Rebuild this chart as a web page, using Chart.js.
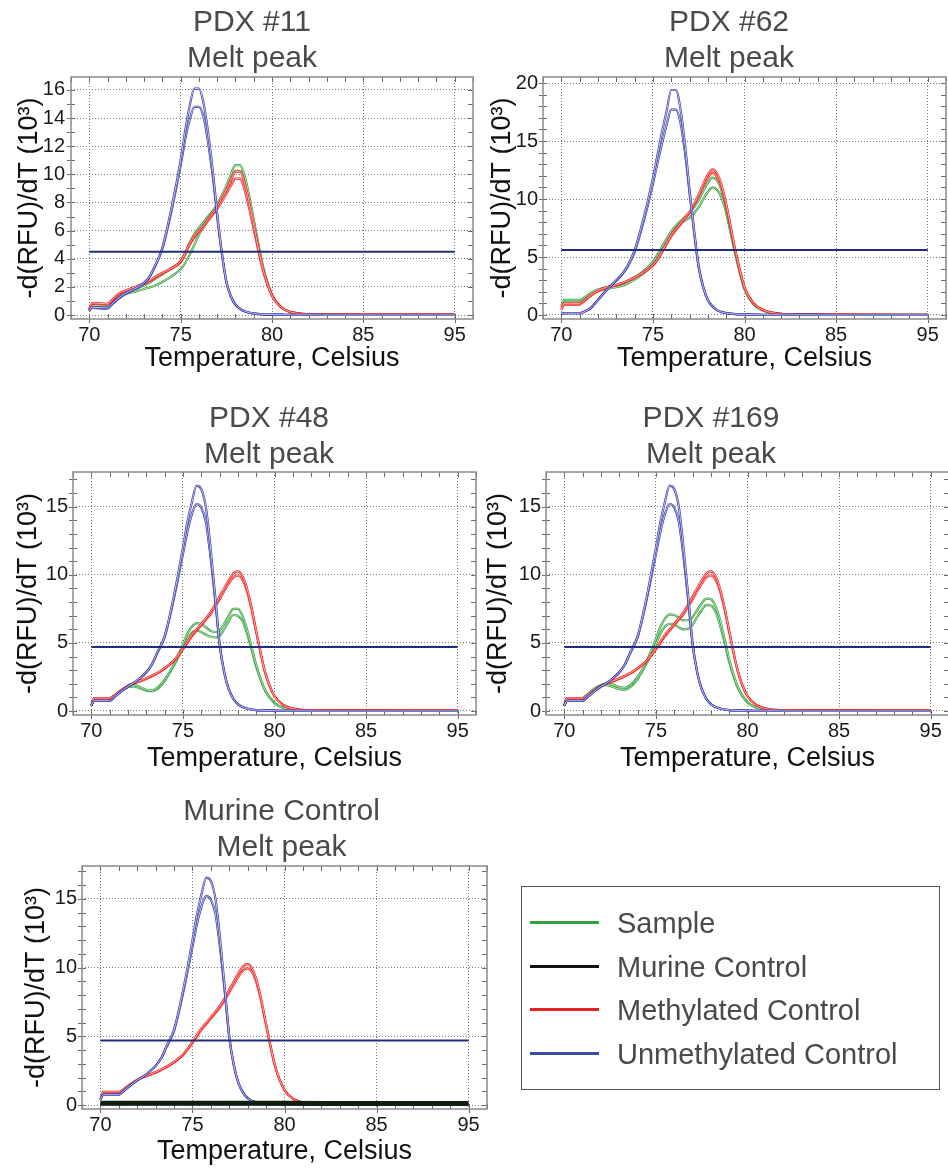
<!DOCTYPE html>
<html>
<head>
<meta charset="utf-8">
<script src="https://cdn.jsdelivr.net/npm/chart.js@4.4.1/dist/chart.umd.min.js"></script>
<style>
html,body{margin:0;padding:0;background:#fff;}
#root{position:relative;width:948px;height:1171px;overflow:hidden;background:#fff;}
#root canvas{position:absolute;}
#legend{position:absolute;left:521px;top:886px;width:419px;height:204px;border:1.5px solid #555;box-sizing:border-box;background:transparent;font-family:'Liberation Sans',Arial,Helvetica,sans-serif;}
#legend .row{position:absolute;left:0;height:40px;display:flex;align-items:center;}
#legend .sw{position:absolute;left:8px;top:18px;width:69px;height:3px;}
#legend .tx{position:absolute;left:95px;top:0;height:40px;line-height:40px;font-size:29px;color:#4a4a4a;white-space:nowrap;}
</style>
</head>
<body>
<div id="root"></div>
<script>
// ---------- data ----------
const panelTitles = ['PDX #11', 'PDX #62', 'PDX #48', 'PDX #169', 'Murine Control'];
const subTitle = 'Melt peak';
const xTickValues = [70, 75, 80, 85, 90];
const xTickLabels = ['70', '75', '80', '85', '95'];
const yTicks16 = [0, 2, 4, 6, 8, 10, 12, 14, 16];
const yTicks20 = [0, 5, 10, 15, 20];
const yTicks15 = [0, 5, 10, 15];
const thresholds = [4.5, 5.6, 4.7, 4.7, 4.7];

const temps = [70, 70.15, 71, 71.2, 71.6, 72, 72.3, 72.6, 73, 73.3, 73.6, 74, 74.5, 75, 75.25, 75.5, 75.75, 76, 76.25, 76.5, 76.8, 77, 77.25, 77.5, 77.75, 78, 78.25, 78.5, 78.75, 79, 79.5, 80, 80.5, 81, 81.5, 82, 83, 85, 90];

// PDX #11
const unmeth11a = [0.3, 0.55, 0.5, 0.75, 1.2, 1.55, 1.75, 1.95, 2.3, 2.75, 3.5, 4.8, 7.6, 11.0, 13.1, 14.9, 16.1, 16.1, 15.1, 13.0, 9.8, 7.2, 4.5, 2.4, 1.35, 0.75, 0.45, 0.27, 0.17, 0.11, 0.05, 0.03, 0.02, 0.01, 0.01, 0.01, 0, 0, 0];
const unmeth11b = [0.3, 0.5, 0.45, 0.7, 1.15, 1.5, 1.7, 1.9, 2.25, 2.7, 3.45, 4.7, 7.4, 10.6, 12.5, 13.9, 14.8, 14.8, 14.1, 12.3, 9.4, 7.0, 4.4, 2.35, 1.3, 0.72, 0.44, 0.26, 0.16, 0.1, 0.05, 0.03, 0.02, 0.01, 0.01, 0.01, 0, 0, 0];
const meth11a = [0.4, 0.85, 0.8, 1.0, 1.5, 1.75, 1.9, 2.05, 2.25, 2.45, 2.7, 3.0, 3.35, 3.8, 4.4, 5.1, 5.6, 6.0, 6.35, 6.8, 7.3, 7.7, 8.3, 8.9, 9.6, 10.2, 10.2, 9.4, 8.0, 6.4, 3.3, 1.4, 0.55, 0.22, 0.1, 0.06, 0.03, 0.02, 0.02];
const meth11b = [0.35, 0.8, 0.75, 0.95, 1.45, 1.7, 1.85, 2.0, 2.2, 2.4, 2.65, 2.95, 3.3, 3.75, 4.3, 5.0, 5.5, 5.9, 6.25, 6.7, 7.2, 7.55, 8.05, 8.6, 9.2, 9.7, 9.7, 8.9, 7.6, 6.1, 3.2, 1.35, 0.55, 0.22, 0.1, 0.06, 0.03, 0.02, 0.02];
const samp11a = [0.35, 0.7, 0.65, 0.85, 1.3, 1.5, 1.6, 1.7, 1.85, 1.95, 2.1, 2.35, 2.75, 3.25, 3.7, 4.3, 5.0, 5.7, 6.3, 6.85, 7.45, 7.9, 8.5, 9.2, 10.0, 10.65, 10.65, 9.9, 8.5, 6.8, 3.5, 1.45, 0.55, 0.2, 0.08, 0.04, 0.02, 0.01, 0.01];
const samp11b = [0.3, 0.65, 0.6, 0.8, 1.3, 1.6, 1.75, 1.9, 2.1, 2.3, 2.55, 2.9, 3.3, 3.85, 4.45, 5.15, 5.75, 6.2, 6.6, 7.0, 7.45, 7.8, 8.3, 8.9, 9.6, 10.25, 10.25, 9.6, 8.2, 6.6, 3.4, 1.4, 0.55, 0.2, 0.08, 0.04, 0.02, 0.01, 0.01];

// PDX #62
const unmeth62a = [0.1, 0.15, 0.15, 0.25, 0.6, 1.3, 1.85, 2.35, 3.0, 3.5, 4.2, 5.6, 8.4, 11.8, 13.8, 15.8, 17.6, 19.4, 19.4, 17.8, 14.0, 10.8, 7.3, 4.2, 2.4, 1.3, 0.75, 0.42, 0.25, 0.16, 0.08, 0.05, 0.03, 0.02, 0.02, 0.01, 0.01, 0, 0];
const unmeth62b = [0.1, 0.15, 0.15, 0.25, 0.6, 1.3, 1.85, 2.35, 2.95, 3.45, 4.1, 5.4, 8.1, 11.3, 13.1, 14.8, 16.4, 17.7, 17.7, 16.6, 13.4, 10.5, 7.1, 4.1, 2.35, 1.3, 0.75, 0.42, 0.25, 0.16, 0.08, 0.05, 0.03, 0.02, 0.02, 0.01, 0.01, 0, 0];
const meth62a = [0.5, 1.0, 1.0, 1.2, 1.7, 2.1, 2.3, 2.45, 2.6, 2.75, 2.95, 3.25, 3.7, 4.3, 4.8, 5.5, 6.2, 6.9, 7.4, 7.9, 8.5, 8.9, 9.6, 10.4, 11.3, 12.1, 12.55, 12.2, 11.2, 9.6, 5.6, 2.4, 1.0, 0.45, 0.2, 0.1, 0.05, 0.03, 0.02];
const meth62b = [0.45, 0.9, 0.9, 1.1, 1.65, 2.05, 2.25, 2.4, 2.55, 2.7, 2.9, 3.2, 3.65, 4.25, 4.75, 5.4, 6.1, 6.8, 7.3, 7.8, 8.4, 8.8, 9.5, 10.2, 11.1, 11.8, 12.25, 11.9, 11.0, 9.4, 5.5, 2.35, 1.0, 0.45, 0.2, 0.1, 0.05, 0.03, 0.02];
const samp62a = [0.8, 1.3, 1.3, 1.45, 1.9, 2.2, 2.35, 2.45, 2.55, 2.7, 2.9, 3.25, 3.8, 4.6, 5.2, 5.9, 6.6, 7.2, 7.7, 8.1, 8.5, 8.8, 9.3, 9.9, 10.7, 11.4, 11.85, 11.6, 10.7, 9.2, 5.4, 2.3, 0.95, 0.4, 0.17, 0.08, 0.04, 0.02, 0.02];
const samp62b = [0.7, 1.2, 1.2, 1.35, 1.8, 2.1, 2.2, 2.3, 2.4, 2.5, 2.7, 3.05, 3.6, 4.4, 5.0, 5.7, 6.4, 7.0, 7.5, 7.9, 8.2, 8.4, 8.8, 9.3, 10.0, 10.6, 11.0, 10.8, 10.1, 8.8, 5.2, 2.2, 0.9, 0.38, 0.16, 0.08, 0.04, 0.02, 0.02];

// controls shared by PDX #48, PDX #169 and Murine Control
const unmethCtlA = [0.4, 0.75, 0.75, 0.95, 1.4, 1.8, 2.05, 2.35, 2.85, 3.4, 4.3, 5.5, 8.4, 12.0, 13.9, 15.4, 16.55, 16.3, 15.0, 12.1, 7.9, 5.0, 2.9, 1.6, 0.9, 0.5, 0.3, 0.18, 0.11, 0.07, 0.04, 0.02, 0.01, 0.01, 0.01, 0, 0, 0, 0];
const unmethCtlB = [0.4, 0.75, 0.75, 0.95, 1.4, 1.8, 2.05, 2.35, 2.85, 3.4, 4.25, 5.4, 8.2, 11.5, 13.2, 14.5, 15.2, 14.95, 13.9, 11.4, 7.6, 4.9, 2.85, 1.6, 0.9, 0.5, 0.3, 0.18, 0.11, 0.07, 0.04, 0.02, 0.01, 0.01, 0.01, 0, 0, 0, 0];
const methCtlA = [0.4, 0.95, 0.95, 1.1, 1.5, 1.85, 2.05, 2.2, 2.4, 2.6, 2.8, 3.15, 3.7, 4.6, 5.1, 5.6, 6.0, 6.4, 6.8, 7.25, 7.9, 8.4, 9.0, 9.6, 10.1, 10.25, 9.9, 9.0, 7.6, 5.9, 2.8, 1.1, 0.42, 0.17, 0.08, 0.05, 0.04, 0.04, 0.05];
const methCtlB = [0.4, 0.9, 0.9, 1.05, 1.45, 1.8, 2.0, 2.15, 2.35, 2.55, 2.75, 3.1, 3.65, 4.5, 5.0, 5.5, 5.9, 6.3, 6.7, 7.1, 7.75, 8.2, 8.8, 9.35, 9.8, 9.95, 9.65, 8.8, 7.45, 5.8, 2.75, 1.08, 0.42, 0.17, 0.08, 0.05, 0.04, 0.04, 0.05];

// PDX #48 samples
const samp48a = [0.4, 0.85, 0.85, 1.05, 1.5, 1.8, 1.9, 1.8, 1.55, 1.5, 1.7, 2.3, 3.4, 4.9, 5.7, 6.2, 6.45, 6.4, 6.15, 5.9, 5.8, 5.9, 6.4, 7.0, 7.5, 7.5, 7.0, 6.0, 4.7, 3.4, 1.5, 0.6, 0.22, 0.09, 0.05, 0.03, 0.02, 0.02, 0.02];
const samp48b = [0.4, 0.8, 0.8, 1.0, 1.45, 1.75, 1.8, 1.7, 1.5, 1.45, 1.6, 2.2, 3.3, 4.6, 5.3, 5.75, 5.9, 5.8, 5.6, 5.45, 5.4, 5.5, 6.0, 6.6, 7.05, 7.0, 6.6, 5.7, 4.5, 3.25, 1.45, 0.58, 0.22, 0.09, 0.05, 0.03, 0.02, 0.02, 0.02];

// PDX #169 samples
const samp169a = [0.4, 0.95, 0.95, 1.15, 1.6, 1.9, 2.0, 1.95, 1.75, 1.7, 1.9, 2.5, 3.7, 5.3, 6.2, 6.8, 7.1, 7.05, 6.85, 6.65, 6.7, 6.9, 7.4, 7.9, 8.25, 8.2, 7.7, 6.7, 5.3, 3.8, 1.7, 0.65, 0.25, 0.1, 0.05, 0.03, 0.02, 0.02, 0.02];
const samp169b = [0.4, 0.9, 0.9, 1.1, 1.55, 1.85, 1.9, 1.8, 1.6, 1.55, 1.75, 2.35, 3.5, 4.9, 5.7, 6.2, 6.4, 6.35, 6.15, 6.0, 6.05, 6.3, 6.9, 7.4, 7.8, 7.75, 7.3, 6.3, 5.0, 3.6, 1.6, 0.62, 0.24, 0.1, 0.05, 0.03, 0.02, 0.02, 0.02];

// Murine control (no amplification)
const murineTemps = [70, 75, 80, 85, 90];
const murineVals = [0.12, 0.12, 0.12, 0.11, 0.11];

const legendLabels = ['Sample', 'Murine Control', 'Methylated Control', 'Unmethylated Control'];

// ---------- styles / layout ----------
const FONT = "'Liberation Sans', Arial, Helvetica, sans-serif";
Chart.defaults.font.family = FONT;
const BLUE = '#3636aa', BLUE_IN = 'rgba(240,240,255,0.85)';
const RED = '#f21c1c', RED_IN = 'rgba(255,232,232,0.8)';
const GREEN = '#2f9a36', GREEN_IN = 'rgba(232,255,232,0.8)';
const BLACK = '#0e1f10', THR = '#1f2f7a';
const legendColors = ['#35a040', '#111111', '#e52222', '#3b4ea6'];

const panels = [
  {blue: [unmeth11a, unmeth11b], red: [meth11a, meth11b], green: [samp11a, samp11b], murine: false, yTicks: yTicks16},
  {blue: [unmeth62a, unmeth62b], red: [meth62a, meth62b], green: [samp62a, samp62b], murine: false, yTicks: yTicks20},
  {blue: [unmethCtlA, unmethCtlB], red: [methCtlA, methCtlB], green: [samp48a, samp48b], murine: false, yTicks: yTicks15},
  {blue: [unmethCtlA, unmethCtlB], red: [methCtlA, methCtlB], green: [samp169a, samp169b], murine: false, yTicks: yTicks15},
  {blue: [unmethCtlA, unmethCtlB], red: [methCtlA, methCtlB], green: [], murine: true, yTicks: yTicks15}
];

const layouts = [
  {left: 0,   top: 1,   w: 504, h: 379, yW: 71, xH: 61, rW: 31, yMin: -0.284, yMax: 16.92, minorMax: 16, tPadB: 0,  yTP: 13.3, xTP: 5.3, yTickPad: 6},
  {left: 474, top: 1,   w: 510, h: 379, yW: 69, xH: 61, rW: 38, yMin: -0.345, yMax: 20.52, minorMax: 20, tPadB: 0,  yTP: 12.8, xTP: 5.3, yTickPad: 5},
  {left: 0,   top: 397, w: 538, h: 383, yW: 73, xH: 65, rW: 62, yMin: -0.294, yMax: 17.55, minorMax: 17, tPadB: -1, yTP: 12.1, xTP: 4.8, yTickPad: 5},
  {left: 472, top: 397, w: 478, h: 383, yW: 74, xH: 65, rW: 1,  yMin: -0.294, yMax: 17.55, minorMax: 17, tPadB: -1, yTP: 10.8, xTP: 4.8, yTickPad: 5},
  {left: 0,   top: 790, w: 563, h: 381, yW: 82, xH: 62, rW: 76, yMin: -0.29,  yMax: 17.4,  minorMax: 17, tPadB: 0,  yTP: 20.5, xTP: 3.3, yTickPad: 5}
];

const framePlugin = {
  id: 'frame',
  beforeDatasetsDraw(chart, args, o) {
    const {ctx, chartArea: a} = chart;
    const xs = chart.scales.x, ys = chart.scales.y;
    ctx.save();
    ctx.lineWidth = 1;
    ctx.strokeStyle = '#6a6a6a';
    ctx.beginPath();
    for (let v = Math.ceil(xs.min); v <= Math.floor(xs.max); v++) {
      const px = Math.round(xs.getPixelForValue(v)) + 0.5;
      const major = xTickValues.includes(v);
      ctx.moveTo(px, a.bottom + (major ? 4 : 0)); ctx.lineTo(px, a.bottom - 5);
      ctx.moveTo(px, a.top); ctx.lineTo(px, a.top + 5);
    }
    for (let v = 0; v <= o.minorMax; v++) {
      const py = Math.round(ys.getPixelForValue(v)) + 0.5;
      ctx.moveTo(a.left - 4, py); ctx.lineTo(a.left + 4, py);
      ctx.moveTo(a.right, py); ctx.lineTo(a.right - 5, py);
    }
    ctx.stroke();
    ctx.lineWidth = 1.5;
    ctx.strokeStyle = '#8a8a8a';
    ctx.strokeRect(a.left, a.top, a.right - a.left, a.bottom - a.top);
    ctx.restore();
  }
};

const common = {pointRadius: 0, pointHoverRadius: 0, fill: false, cubicInterpolationMode: 'monotone'};

function curveSets(list, color, inner, base) {
  const out = [];
  list.forEach((vals, k) => {
    const pts = temps.map((t, i) => ({x: t, y: vals[i]}));
    out.push(Object.assign({data: pts, borderColor: color, borderWidth: 2.2, order: base + 2 * k + 1}, common));
    out.push(Object.assign({data: pts, borderColor: inner, borderWidth: 0.9, order: base + 2 * k}, common));
  });
  return out;
}

const root = document.getElementById('root');

layouts.forEach((L, p) => {
  const P = panels[p];
  const c = document.createElement('canvas');
  c.width = L.w; c.height = L.h;
  c.style.left = L.left + 'px'; c.style.top = L.top + 'px';
  c.style.width = L.w + 'px'; c.style.height = L.h + 'px';
  root.appendChild(c);

  const ds = [];
  if (P.murine) {
    ds.push(Object.assign({data: murineTemps.map((t, i) => ({x: t, y: murineVals[i]})), borderColor: BLACK, borderWidth: 5, order: 0}, common));
  }
  ds.push(Object.assign({data: [{x: temps[0], y: thresholds[p]}, {x: temps[temps.length - 1], y: thresholds[p]}], borderColor: THR, borderWidth: 2, order: 1}, common));
  ds.push(...curveSets(P.blue, BLUE, BLUE_IN, 10));
  ds.push(...curveSets(P.red, RED, RED_IN, 20));
  ds.push(...curveSets(P.green, GREEN, GREEN_IN, 30));

  new Chart(c, {
    type: 'line',
    data: {datasets: ds},
    plugins: [framePlugin],
    options: {
      responsive: false,
      animation: false,
      events: [],
      layout: {padding: 0, autoPadding: false},
      plugins: {
        legend: {display: false},
        tooltip: {enabled: false},
        title: {
          display: true,
          text: [panelTitles[p], subTitle],
          color: '#4a4a4a',
          font: {size: 30, weight: 'normal', lineHeight: 36 / 30},
          padding: {top: 4, bottom: L.tPadB}
        },
        frame: {minorMax: L.minorMax}
      },
      scales: {
        x: {
          type: 'linear', position: 'bottom', min: 69, max: 91,
          afterBuildTicks: s => { s.ticks = xTickValues.map(v => ({value: v})); },
          afterFit: s => { s.height = L.xH; },
          ticks: {
            autoSkip: false, maxRotation: 0, padding: 4, color: '#1a1a1a',
            font: {size: 20},
            callback: v => xTickLabels[xTickValues.indexOf(v)]
          },
          grid: {color: '#7a7a7a', lineWidth: 1, drawTicks: false},
          border: {display: false, dash: [1, 2]},
          title: {display: true, text: 'Temperature, Celsius', color: '#111', font: {size: 27}, padding: {top: 0, bottom: L.xTP}}
        },
        y: {
          type: 'linear', position: 'left', min: L.yMin, max: L.yMax,
          afterBuildTicks: s => { s.ticks = P.yTicks.map(v => ({value: v})); },
          afterFit: s => { s.width = L.yW; },
          ticks: {padding: L.yTickPad, color: '#1a1a1a', font: {size: 20}},
          grid: {color: '#7a7a7a', lineWidth: 1, drawTicks: false},
          border: {display: false, dash: [1, 2]},
          title: {display: true, text: '-d(RFU)/dT (10\u00B3)', color: '#111', font: {size: 27}, padding: {top: L.yTP, bottom: 0}}
        },
        yR: {
          type: 'linear', position: 'right', display: true,
          ticks: {display: false}, grid: {display: false}, border: {display: false},
          afterFit: s => { s.width = L.rW; }
        }
      }
    }
  });
});

// HTML legend box
const lg = document.createElement('div');
lg.id = 'legend';
root.appendChild(lg);
legendLabels.forEach((lab, i) => {
  const row = document.createElement('div');
  row.className = 'row';
  row.style.top = (16 + i * 43.5) + 'px';
  const sw = document.createElement('div');
  sw.className = 'sw';
  sw.style.background = legendColors[i];
  const tx = document.createElement('div');
  tx.className = 'tx';
  tx.textContent = lab;
  row.appendChild(sw); row.appendChild(tx);
  lg.appendChild(row);
});
</script>
</body>
</html>
